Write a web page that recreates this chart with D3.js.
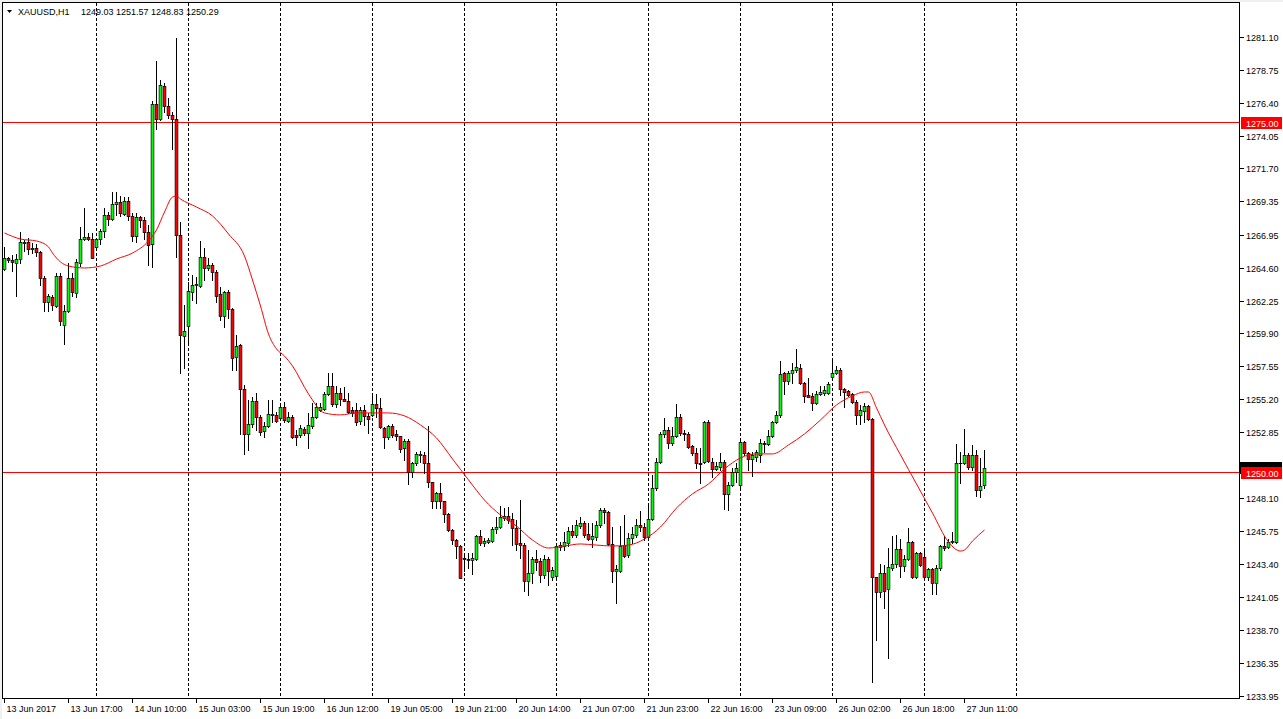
<!DOCTYPE html>
<html><head><meta charset="utf-8">
<script src="https://cdn.jsdelivr.net/npm/d3@7"></script>
<style>
body{margin:0;background:#fff;}
svg{display:block;}
text{font-family:"Liberation Sans",Arial,sans-serif;font-size:9px;}
</style>
</head><body>
<svg id="chart" width="1283" height="719"></svg>
<script>
// ---------- DATA ----------
const symbol = "XAUUSD,H1";
const lastOHLC = "1249.03 1251.57 1248.83 1250.29";
const open = [
1264.50,1265.29,1265.15,1264.93,1265.22,1266.36,1266.44,1265.93,1266.01,1265.72,
1263.86,1262.15,1262.50,1261.86,1264.00,1260.50,1261.50,1263.86,1262.79,1264.93,
1266.65,1266.79,1266.65,1266.08,1266.65,1267.22,1268.37,1268.08,1269.15,1269.30,
1268.44,1269.37,1268.30,1266.86,1268.22,1268.01,1267.15,1266.29,1276.30,1275.23,
1277.60,1276.16,1275.52,1275.23,1266.94,1259.71,1260.43,1262.86,1263.36,1263.29,
1265.36,1264.58,1264.79,1264.29,1262.72,1261.15,1262.86,1261.65,1258.21,1259.07,
1255.92,1252.71,1253.42,1255.07,1253.92,1252.92,1253.28,1254.07,1254.07,1253.85,
1254.64,1253.64,1253.92,1252.64,1252.64,1253.07,1252.78,1253.28,1253.92,1254.42,
1254.50,1255.57,1256.14,1254.85,1255.64,1255.21,1255.07,1254.42,1254.42,1253.64,
1254.42,1254.00,1254.07,1254.85,1254.57,1253.14,1252.49,1253.28,1252.71,1252.56,
1251.71,1252.21,1249.99,1250.64,1251.21,1251.21,1250.64,1249.28,1247.91,1248.49,
1247.91,1246.98,1245.83,1245.12,1244.69,1243.83,1243.76,1243.69,1243.76,1245.40,
1244.91,1244.98,1245.05,1245.91,1246.05,1246.69,1246.84,1246.62,1245.98,1244.91,
1244.76,1242.19,1242.76,1243.76,1243.62,1242.62,1243.76,1242.47,1242.55,1244.62,
1244.69,1244.91,1245.76,1245.48,1246.12,1246.34,1245.55,1245.19,1245.33,1246.19,
1247.27,1247.12,1244.85,1242.90,1242.90,1244.76,1244.05,1245.26,1245.48,1246.19,
1246.05,1245.33,1246.62,1248.85,1250.71,1252.71,1252.99,1252.06,1252.56,1253.92,
1252.78,1252.71,1251.85,1251.35,1250.64,1250.71,1253.57,1250.71,1250.21,1250.35,
1250.71,1248.42,1249.06,1249.99,1249.06,1252.14,1251.35,1250.92,1251.06,1251.21,
1252.06,1251.99,1252.56,1253.57,1254.07,1257.07,1256.50,1257.07,1257.28,1257.43,
1256.36,1255.50,1255.40,1254.93,1255.57,1255.64,1255.64,1256.79,1257.07,1257.28,
1255.92,1255.78,1255.57,1255.00,1254.07,1254.35,1254.71,1253.78,1242.47,1241.40,
1242.76,1241.61,1243.12,1243.40,1244.47,1243.26,1243.76,1244.98,1242.47,1244.19,
1243.90,1242.47,1243.05,1242.05,1243.12,1244.69,1244.62,1244.98,1244.98,1250.64,
1250.60,1251.21,1250.35,1251.21,1248.70,1249.03];
const high = [
1266.08,1265.36,1265.51,1265.58,1267.15,1266.58,1266.72,1266.36,1266.29,1265.79,
1264.00,1262.72,1262.64,1264.22,1264.22,1261.93,1264.93,1264.22,1265.22,1267.51,
1268.87,1267.08,1267.08,1266.72,1267.37,1268.87,1268.58,1270.01,1270.01,1269.72,
1269.65,1269.65,1268.51,1268.51,1268.30,1268.22,1267.65,1276.52,1279.39,1278.03,
1277.81,1276.74,1275.73,1281.03,1267.87,1261.93,1263.57,1264.08,1263.93,1266.51,
1266.01,1265.29,1264.93,1264.43,1263.22,1262.93,1263.01,1261.72,1259.79,1259.14,
1256.21,1255.14,1255.35,1255.64,1254.07,1253.57,1255.14,1255.14,1254.28,1254.93,
1255.00,1254.28,1254.07,1252.99,1253.35,1253.21,1254.21,1254.93,1254.93,1254.93,
1255.71,1257.07,1257.07,1256.14,1256.00,1256.07,1255.64,1254.64,1254.93,1254.64,
1254.78,1254.21,1255.64,1255.57,1255.28,1253.21,1253.35,1253.42,1252.99,1252.56,
1252.35,1252.35,1250.71,1251.42,1251.49,1251.42,1253.28,1249.28,1248.56,1249.20,
1247.91,1247.05,1245.91,1245.19,1244.76,1244.19,1244.19,1244.19,1245.48,1245.83,
1245.26,1245.26,1246.05,1246.76,1247.55,1247.41,1247.48,1247.05,1246.55,1247.98,
1244.91,1244.41,1243.91,1244.41,1243.83,1244.05,1243.91,1243.19,1244.91,1244.98,
1245.69,1246.05,1246.19,1246.55,1246.76,1246.48,1246.34,1246.34,1246.48,1247.41,
1247.41,1247.19,1246.05,1243.33,1246.12,1246.91,1245.62,1246.05,1246.62,1247.19,
1246.34,1247.62,1249.78,1250.99,1252.85,1253.85,1253.21,1253.21,1254.85,1254.14,
1252.99,1252.85,1251.92,1251.71,1251.71,1253.64,1253.71,1250.99,1250.71,1251.35,
1250.85,1249.28,1250.28,1250.64,1252.21,1252.21,1251.42,1251.42,1251.56,1252.35,
1252.21,1252.99,1253.64,1254.35,1257.92,1257.14,1257.21,1257.78,1258.79,1257.71,
1256.43,1256.71,1255.64,1255.78,1256.14,1256.14,1256.43,1258.14,1257.57,1257.43,
1256.00,1255.85,1255.64,1255.14,1254.78,1254.93,1254.78,1253.85,1242.50,1243.40,
1243.33,1244.55,1245.40,1245.48,1245.19,1244.05,1245.98,1245.05,1244.26,1244.26,
1244.55,1243.12,1243.12,1243.33,1244.76,1245.40,1245.19,1245.69,1251.99,1251.42,
1253.07,1251.35,1251.92,1251.56,1250.99,1251.57];
const low = [
1264.43,1265.01,1264.36,1262.57,1264.93,1265.79,1265.58,1265.65,1265.43,1263.36,
1261.50,1261.50,1261.57,1261.79,1260.50,1259.14,1261.43,1262.57,1262.50,1264.72,
1266.58,1266.58,1265.29,1266.01,1266.29,1266.79,1267.65,1268.01,1268.37,1268.30,
1268.37,1268.01,1266.51,1266.44,1267.51,1266.65,1264.79,1264.65,1274.52,1275.16,
1275.73,1275.30,1273.08,1265.36,1257.07,1257.43,1259.29,1262.29,1262.08,1263.22,
1263.72,1264.43,1263.72,1262.15,1260.86,1260.36,1261.00,1257.28,1257.28,1252.71,
1251.28,1251.56,1253.21,1252.99,1252.64,1252.49,1253.21,1253.57,1253.57,1253.78,
1253.57,1253.57,1252.42,1251.92,1252.49,1252.64,1251.71,1253.14,1253.85,1254.35,
1254.42,1255.49,1254.71,1254.64,1254.78,1255.07,1254.21,1254.00,1253.35,1253.42,
1253.35,1252.78,1254.00,1253.92,1253.14,1251.71,1252.35,1252.49,1252.28,1251.42,
1250.85,1249.13,1249.63,1250.49,1250.71,1249.92,1248.91,1247.41,1247.41,1247.41,
1246.41,1245.76,1244.85,1243.83,1242.40,1242.91,1243.12,1242.69,1243.69,1244.76,
1244.69,1244.91,1244.98,1245.62,1245.98,1246.55,1246.34,1244.76,1244.41,1243.83,
1241.47,1241.18,1242.05,1242.98,1242.12,1242.40,1241.90,1242.26,1242.47,1244.41,
1244.41,1244.69,1245.33,1245.33,1245.98,1245.33,1245.12,1244.62,1245.12,1246.05,
1246.34,1244.76,1242.12,1240.62,1242.83,1243.90,1243.90,1244.91,1245.33,1245.76,
1245.12,1245.26,1246.55,1248.70,1250.64,1252.49,1251.71,1251.92,1252.49,1252.64,
1252.28,1251.71,1251.21,1250.28,1249.20,1250.64,1250.71,1249.63,1250.14,1250.14,
1247.34,1247.27,1248.99,1249.28,1248.91,1251.21,1250.14,1249.70,1250.78,1250.71,
1251.42,1251.92,1252.49,1253.49,1253.92,1255.57,1256.29,1256.36,1257.14,1256.29,
1255.00,1255.35,1254.42,1254.85,1255.49,1255.49,1255.57,1256.72,1257.00,1255.49,
1254.64,1255.43,1254.93,1253.42,1253.42,1253.57,1253.71,1234.96,1237.97,1241.04,
1240.26,1236.68,1242.98,1243.19,1242.47,1242.90,1243.69,1242.40,1242.40,1243.26,
1242.40,1242.26,1241.26,1241.26,1242.98,1244.41,1244.55,1244.91,1244.91,1249.20,
1250.56,1250.21,1250.14,1248.27,1248.20,1248.83];
const close = [
1265.29,1265.15,1265.01,1265.22,1266.44,1266.44,1265.93,1266.01,1265.72,1263.86,
1262.15,1262.57,1261.93,1264.00,1260.79,1261.50,1263.86,1262.86,1265.01,1266.65,
1266.79,1266.65,1265.29,1266.65,1267.22,1268.37,1268.08,1269.15,1269.30,1268.51,
1269.37,1268.30,1266.86,1268.22,1268.01,1267.15,1266.22,1276.30,1275.23,1277.67,
1276.16,1275.52,1275.23,1266.94,1259.79,1260.07,1262.93,1263.36,1263.43,1265.36,
1264.58,1264.79,1264.29,1262.57,1261.15,1262.86,1261.65,1258.14,1259.00,1255.92,
1252.71,1253.42,1255.07,1253.92,1252.85,1253.28,1254.14,1254.14,1253.64,1254.64,
1253.71,1253.92,1252.49,1252.49,1253.14,1252.78,1253.35,1253.92,1254.64,1254.64,
1255.57,1256.14,1254.85,1255.64,1255.21,1255.07,1254.28,1254.21,1253.57,1254.42,
1254.00,1253.78,1254.85,1254.57,1253.21,1252.49,1253.28,1252.64,1252.56,1251.63,
1252.21,1249.99,1250.64,1251.28,1251.28,1250.64,1249.28,1247.91,1248.49,1247.91,
1246.98,1245.83,1245.12,1244.69,1242.40,1243.76,1243.69,1243.83,1245.40,1244.91,
1245.05,1245.12,1245.91,1246.05,1246.76,1246.84,1246.55,1245.98,1244.85,1244.76,
1242.19,1242.76,1243.76,1243.55,1242.62,1243.76,1242.90,1242.98,1244.69,1244.76,
1244.98,1245.76,1245.48,1246.19,1246.34,1245.48,1245.19,1245.40,1246.19,1247.27,
1247.12,1244.85,1242.90,1243.05,1244.69,1244.00,1245.26,1245.55,1246.19,1246.05,
1245.33,1246.62,1248.85,1250.71,1252.71,1252.99,1252.06,1252.56,1253.92,1252.78,
1252.71,1251.78,1251.35,1250.64,1250.56,1253.57,1250.78,1250.21,1250.42,1250.71,
1248.42,1249.06,1249.99,1250.28,1252.14,1251.35,1250.92,1251.21,1251.42,1252.06,
1251.99,1252.56,1253.57,1254.07,1257.00,1256.50,1257.07,1257.28,1257.50,1256.36,
1255.43,1255.35,1254.93,1255.57,1255.71,1255.85,1256.29,1257.07,1257.28,1255.92,
1255.71,1255.49,1255.00,1254.07,1254.42,1254.71,1253.78,1242.47,1241.40,1242.76,
1241.47,1243.19,1243.40,1244.47,1243.26,1243.76,1244.98,1242.47,1244.19,1243.33,
1242.47,1243.05,1242.05,1243.12,1244.69,1244.55,1244.98,1245.05,1250.64,1250.60,
1251.21,1250.35,1251.21,1248.70,1248.99,1250.29];

// moving average (at these bar indices)
const maIdx = [0,4,8,11,12,14,16,20,24,28,32,36,38,40,42,43,44,48,52,56,60,62,64,66,68,70,72,76,80,84,88,92,96,100,104,108,112,116,120,124,128,132,136,140,144,148,152,156,160,164,168,172,176,180,184,188,192,196,200,204,208,212,215,216,218,220,224,228,232,236,239,240,242,245];
const maVal = [1267.08,1266.65,1266.51,1266.08,1265.65,1265.01,1264.72,1264.58,1264.72,1265.22,1265.65,1266.51,1267.30,1268.58,1269.65,1269.72,1269.51,1268.94,1268.30,1267.01,1265.43,1263.72,1261.86,1259.86,1258.79,1258.28,1257.57,1255.57,1254.21,1254.07,1254.21,1254.21,1254.21,1254.00,1253.35,1252.42,1250.92,1249.42,1247.98,1246.91,1246.12,1245.12,1244.55,1244.69,1244.84,1244.76,1244.69,1244.76,1245.19,1246.05,1247.41,1248.42,1249.13,1250.21,1250.99,1251.28,1251.28,1251.92,1252.71,1253.71,1254.78,1255.43,1255.71,1255.71,1254.57,1253.35,1251.21,1249.13,1247.05,1244.98,1244.33,1244.41,1245.05,1245.84];

// 1250.50 tick exists on the scale but its label is hidden under the price labels
const priceTicks = [1281.10,1278.75,1276.40,1274.05,1271.70,1269.35,1266.95,1264.60,1262.25,1259.90,1257.55,1255.20,1252.85,1250.50,1248.10,1245.75,1243.40,1241.05,1238.70,1236.35,1233.95];
const timeLabels = ["13 Jun 2017","13 Jun 17:00","14 Jun 10:00","15 Jun 03:00","15 Jun 19:00","16 Jun 12:00","19 Jun 05:00","19 Jun 21:00","20 Jun 14:00","21 Jun 07:00","21 Jun 23:00","22 Jun 16:00","23 Jun 09:00","26 Jun 02:00","26 Jun 18:00","27 Jun 11:00"];
const timeLabelIdx = [0,16,32,48,64,80,96,112,128,144,160,176,192,208,224,240];
const dayStartIdx = [23,46,69,92,115,138,161,184,207,230,253];
const levels = [1275.00,1250.00];
const bidPrice = 1250.29;

// ---------- LAYOUT ----------
const svg = d3.select("#chart");
const P = {left:3, right:1240, top:3, bottom:699};
const x = d3.scaleLinear().domain([0,309]).range([4.5, 4.5+4*309]);
const y = d3.scaleLinear().domain([1233.95,1281.10]).range([696.2,37]);
const ry = v => Math.round(y(v));

// window strip
svg.append("rect").attr("x",0).attr("y",0).attr("width",1283).attr("height",2).attr("fill","#f0f0f0");
svg.append("rect").attr("x",0).attr("y",0).attr("width",2).attr("height",719).attr("fill","#f0f0f0");

svg.append("defs").append("clipPath").attr("id","pc").append("rect")
  .attr("x",P.left).attr("y",P.top).attr("width",P.right-P.left).attr("height",P.bottom-P.top);

const g = svg.append("g").attr("clip-path","url(#pc)");

// day separators
g.selectAll("line.day").data(dayStartIdx).enter().append("line")
  .attr("x1",d=>Math.floor(x(d))+0.5).attr("x2",d=>Math.floor(x(d))+0.5)
  .attr("y1",P.top).attr("y2",P.bottom)
  .attr("stroke","#000").attr("stroke-width",1).attr("stroke-dasharray","3,2");

// horizontal level lines
g.selectAll("line.lvl").data(levels).enter().append("line")
  .attr("x1",P.left).attr("x2",P.right)
  .attr("y1",d=>ry(d)+0.5).attr("y2",d=>ry(d)+0.5)
  .attr("stroke","#ff0000").attr("stroke-width",1);

// candles
const bars = d3.range(open.length).map(i=>({i,o:open[i],h:high[i],l:low[i],c:close[i]}));
const cg = g.append("g");
cg.selectAll("rect.wick").data(bars).enter().append("rect")
  .attr("x",d=>Math.floor(x(d.i))).attr("width",1)
  .attr("y",d=>ry(d.h)).attr("height",d=>Math.max(1,ry(d.l)-ry(d.h)+1))
  .attr("fill","#000");
bars.forEach(d=>{
  const cx = x(d.i);
  const t = ry(Math.max(d.o,d.c)), b = ry(Math.min(d.o,d.c));
  if (b - t < 1) {
    cg.append("rect").attr("x",cx-1.75).attr("width",3.5).attr("y",t).attr("height",1).attr("fill","#000");
  } else {
    cg.append("rect").attr("x",cx-1.4).attr("width",2.8).attr("y",t+0.35).attr("height",b-t+0.3)
      .attr("fill", d.c>=d.o ? "#00ff00" : "#ff0000")
      .attr("stroke","#000").attr("stroke-width",0.7);
  }
});

// moving average line
const ma = maIdx.map((k,j)=>[k,maVal[j]]);
g.append("path").datum(ma)
  .attr("d", d3.line().x(d=>x(d[0])).y(d=>y(d[1])).curve(d3.curveMonotoneX))
  .attr("fill","none").attr("stroke","#ff0000").attr("stroke-width",1);

// frame
svg.append("rect").attr("x",P.left-0.5).attr("y",P.top-0.5)
  .attr("width",P.right-P.left).attr("height",P.bottom-P.top)
  .attr("fill","none").attr("stroke","#000").attr("stroke-width",1);

// price axis
const pa = svg.append("g");
const hiddenUnder = v => levels.concat([bidPrice]).some(l => Math.abs(y(l)-y(v)) < 10);
pa.selectAll("line").data(priceTicks).enter().append("line")
  .attr("x1",P.right).attr("x2",P.right+4)
  .attr("y1",d=>ry(d)+0.5).attr("y2",d=>ry(d)+0.5).attr("stroke","#000");
pa.selectAll("text").data(priceTicks.filter(v=>!hiddenUnder(v))).enter().append("text")
  .attr("x",P.right+6).attr("y",d=>ry(d)+3.5).attr("fill","#000")
  .text(d=>d.toFixed(2));

// bid label (black box, mostly covered by the 1250.00 level label)
svg.append("rect").attr("x",P.right).attr("y",ry(bidPrice)-6).attr("width",42).attr("height",12).attr("fill","#000");

// level labels
levels.forEach(v=>{
  svg.append("rect").attr("x",P.right+1).attr("y",ry(v)-5).attr("width",41).attr("height",12).attr("fill","#ff0000");
  svg.append("text").attr("x",P.right+6).attr("y",ry(v)+4.5).attr("fill","#fff").text(v.toFixed(2));
});

// time axis
const ta = svg.append("g");
timeLabelIdx.forEach((k,j)=>{
  const xx = Math.floor(x(k))+0.5;
  ta.append("line").attr("x1",xx).attr("x2",xx).attr("y1",P.bottom).attr("y2",P.bottom+4).attr("stroke","#000");
  ta.append("text").attr("x",xx+2).attr("y",712).attr("fill","#000").text(timeLabels[j]);
});

// title
svg.append("path").attr("d","M7,10 L12,10 L9.5,13 Z").attr("fill","#000");
svg.append("text").attr("x",18).attr("y",15).attr("fill","#000").text(symbol);
svg.append("text").attr("x",81).attr("y",15).attr("fill","#000").text(lastOHLC);
</script>
</body></html>
